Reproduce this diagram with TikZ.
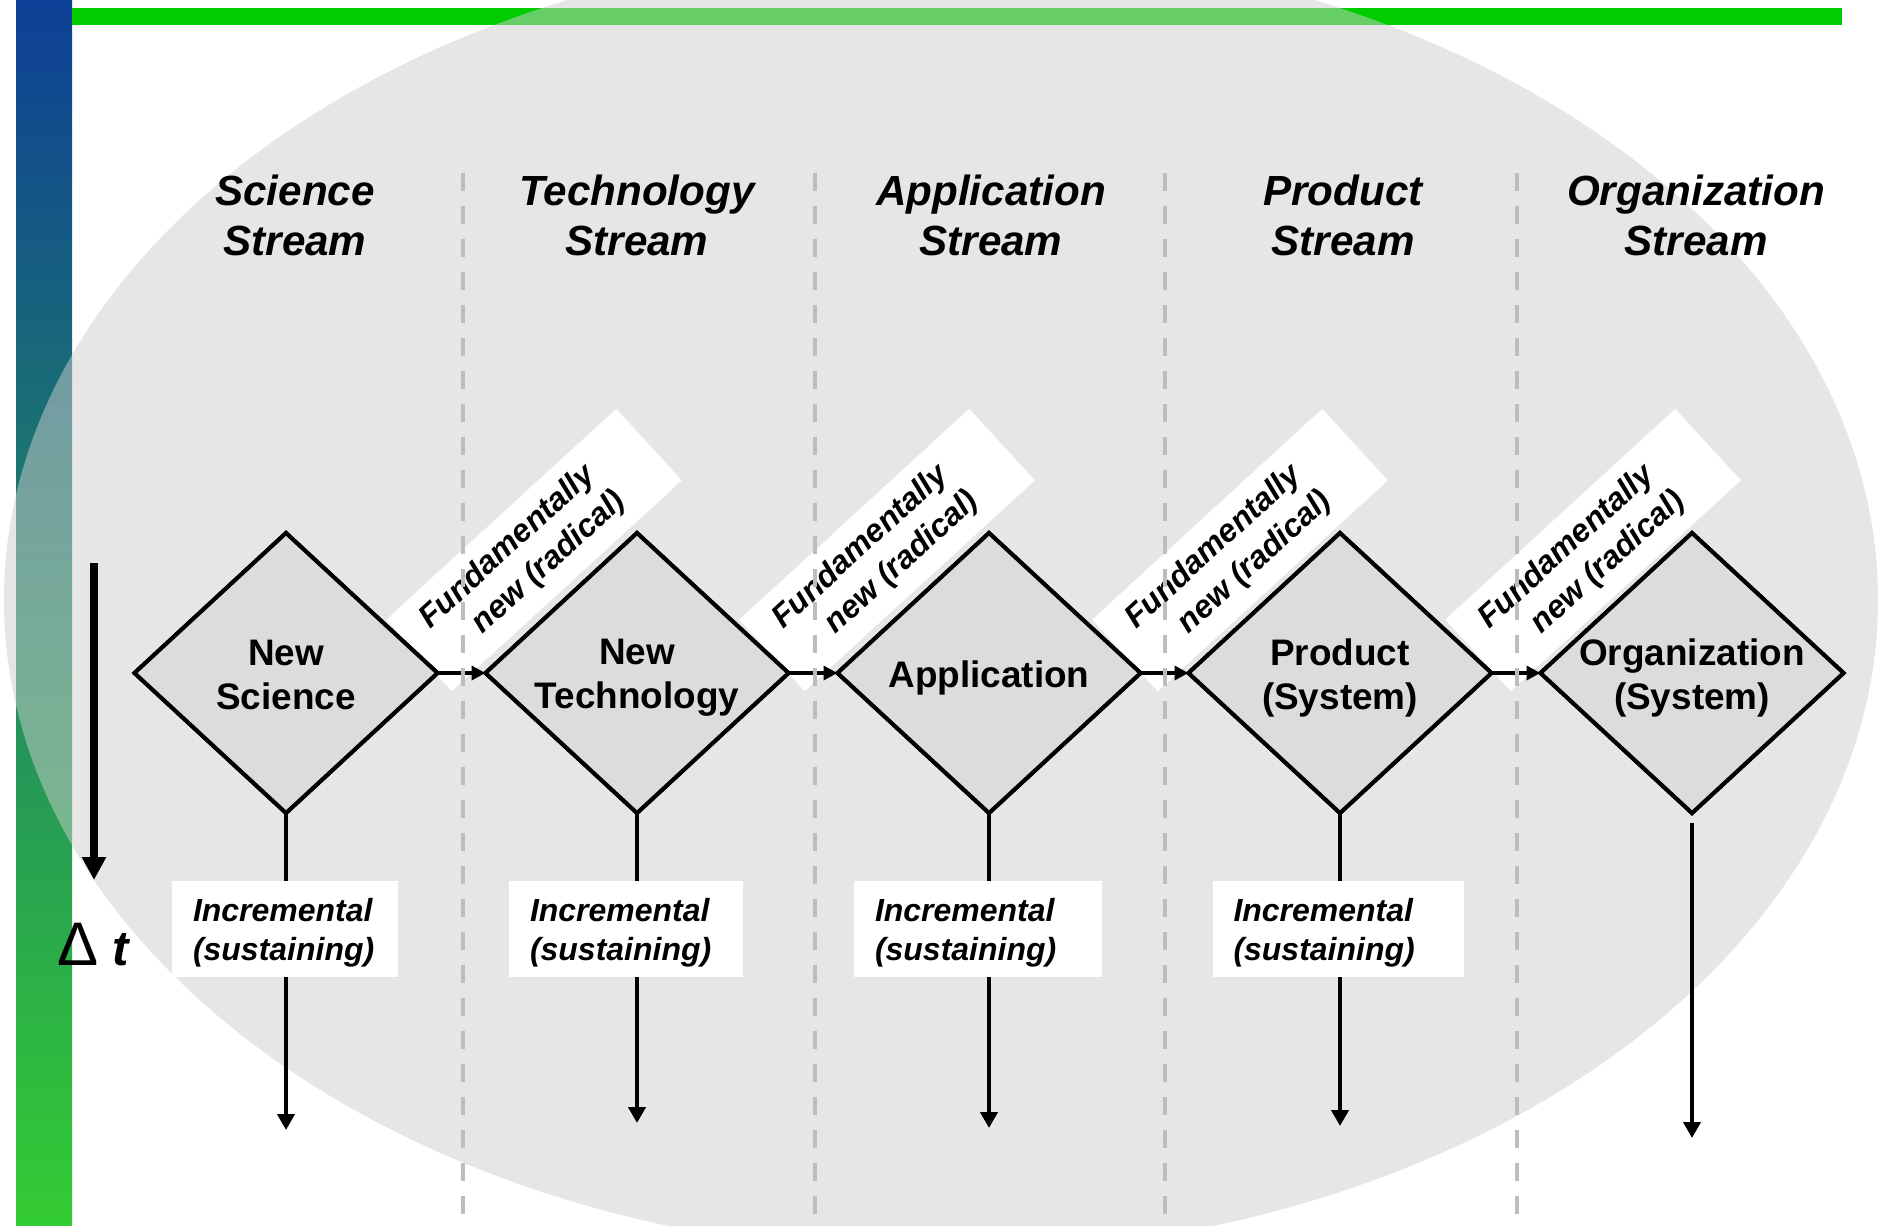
\documentclass[tikz,border=0pt]{standalone}
\usepackage{fontspec}
\setmainfont{Liberation Sans}
\usetikzlibrary{shapes.geometric,arrows.meta}
\definecolor{barblue}{HTML}{0E3F96}
\definecolor{bargreen}{HTML}{33CC33}
\definecolor{rulegreen}{HTML}{00CC00}
\definecolor{ovalgray}{HTML}{CECECE}
\definecolor{boxgray}{HTML}{DCDCDC}
\definecolor{sepgray}{HTML}{BDBDBD}
\begin{document}
\begin{tikzpicture}[x=0.1mm, y=-0.1mm,
  stage/.style={diamond, draw=black, line width=1.15pt, fill=boxgray,
    minimum width=30.3mm, minimum height=28mm, inner sep=0pt, outer sep=0pt},
  stagetext/.style={font=\fontsize{10.5}{12.5}\selectfont\bfseries,
    align=center, inner sep=0pt, yshift=-0.5mm},
  title/.style={font=\fontsize{12}{14.2}\selectfont\bfseries\itshape,
    align=center, inner sep=0pt},
  radbox/.style={fill=white, minimum width=31.2mm, minimum height=9.7mm,
    inner sep=0pt, rotate=42.5},
  radtext/.style={rotate=42.5, xshift=-1.5mm, inner sep=0pt, align=left,
    font=\fontsize{9.1}{11.2}\selectfont\bfseries\itshape},
  incbox/.style={fill=white, minimum height=9.6mm, inner sep=0pt},
  inctext/.style={anchor=west, inner sep=0pt, align=left,
    font=\fontsize{9.1}{11.1}\selectfont\bfseries\itshape},
  varrow/.style={line width=1.3pt, -{Triangle[length=1.6mm, width=1.7mm]}},
  harrow/.style={line width=1.15pt, -{Triangle[length=1.4mm, width=1.4mm]}},
  timearrow/.style={line width=2.3pt, -{Triangle[length=2.3mm, width=2.3mm]}},
  separator/.style={draw=sepgray, line width=1.4pt, dash pattern=on 1.8mm off 1.5mm}
]
\useasboundingbox (0,0) rectangle (1881,1225);

% side bar and top rule
\shade[top color=barblue, bottom color=bargreen] (16,0) rectangle (72,1225);
\fill[rulegreen] (72,8) rectangle (1842,25);

% translucent oval backdrop
\fill[ovalgray, fill opacity=0.5] (941,600) ellipse [x radius=93.7mm, y radius=65.4mm];

% stream headings
\node[title] (h1) at (295,215) {Science\\Stream};
\node[title] (h2) at (637,215) {Technology\\Stream};
\node[title] (h3) at (991,215) {Application\\Stream};
\node[title] (h4) at (1343,215) {Product\\Stream};
\node[title] (h5) at (1696,215) {Organization\\Stream};

% radical-change labels: white tags with their text
\node[radbox] (r1) at (534,550) {};
\node[radbox] (r2) at (887,550) {};
\node[radbox] (r3) at (1240,550) {};
\node[radbox] (r4) at (1593,550) {};
\node[radtext] (r1-t) at (r1) {Fundamentally\\\hspace*{10pt}new (radical)};
\node[radtext] (r2-t) at (r2) {Fundamentally\\\hspace*{10pt}new (radical)};
\node[radtext] (r3-t) at (r3) {Fundamentally\\\hspace*{10pt}new (radical)};
\node[radtext] (r4-t) at (r4) {Fundamentally\\\hspace*{10pt}new (radical)};

% stages
\node[stage] (sci) at (286,673) {};
\node[stage] (tech) at (637,673) {};
\node[stage] (app) at (989,673) {};
\node[stage] (prod) at (1340,673) {};
\node[stage] (org) at (1692,673) {};

% arrow ends
\coordinate (sci-end) at (286,1130);
\coordinate (tech-end) at (637,1123);
\coordinate (app-end) at (989,1128);
\coordinate (prod-end) at (1340,1126);
\coordinate (org-end) at (1692,1138);
\coordinate (t-top) at (94,563);
\coordinate (t-tip) at (94,880);

% incremental flows
\draw[varrow] (sci.south) -- (sci-end);
\draw[varrow] (tech.south) -- (tech-end);
\draw[varrow] (app.south) -- (app-end);
\draw[varrow] (prod.south) -- (prod-end);
\draw[varrow] ([yshift=-1mm]org.south) -- (org-end);

% radical flows
\draw[harrow] (sci.east) -- (tech.west);
\draw[harrow] (tech.east) -- (app.west);
\draw[harrow] (app.east) -- (prod.west);
\draw[harrow] (prod.east) -- (org.west);

% stages again, on top of the flows, with their names
\node[stage] at (sci) {};
\node[stage] at (tech) {};
\node[stage] at (app) {};
\node[stage] at (prod) {};
\node[stage] at (org) {};
\node[stagetext, yshift=0.35mm] (sci-t) at (sci) {New\\Science};
\node[stagetext] (tech-t) at (tech) {New\\Technology};
\node[stagetext] (app-t) at (app) {Application};
\node[stagetext] (prod-t) at (prod) {Product\\(System)};
\node[stagetext] (org-t) at (org) {Organization\\(System)};

% incremental labels: white boxes with left-set text
\node[incbox, minimum width=22.6mm] (i1) at (285,929) {};
\node[incbox, minimum width=23.4mm] (i2) at (626,929) {};
\node[incbox, minimum width=24.8mm] (i3) at (978,929) {};
\node[incbox, minimum width=25.1mm] (i4) at (1338,929) {};
\node[inctext] (i1-t) at ([xshift=2.1mm, yshift=-0.36mm]i1.west) {Incremental\\(sustaining)};
\node[inctext] (i2-t) at ([xshift=2.1mm, yshift=-0.36mm]i2.west) {Incremental\\(sustaining)};
\node[inctext] (i3-t) at ([xshift=2.1mm, yshift=-0.36mm]i3.west) {Incremental\\(sustaining)};
\node[inctext] (i4-t) at ([xshift=2.1mm, yshift=-0.36mm]i4.west) {Incremental\\(sustaining)};

% time axis
\draw[timearrow] (t-top) -- (t-tip);
\node[anchor=base west, inner sep=0pt] (dt) at (57,965)
  {{\fontsize{17.5}{20}\selectfont Δ}\hspace{4pt}{\fontsize{14}{16}\selectfont\bfseries\itshape t}};

% stream separators
\coordinate (s1) at (463,173);
\coordinate (s2) at (815,173);
\coordinate (s3) at (1165,173);
\coordinate (s4) at (1517,173);
\draw[separator] (s1) -- (463,1225);
\draw[separator] (s2) -- (815,1225);
\draw[separator] (s3) -- (1165,1225);
\draw[separator] (s4) -- (1517,1225);
\end{tikzpicture}
\end{document}
